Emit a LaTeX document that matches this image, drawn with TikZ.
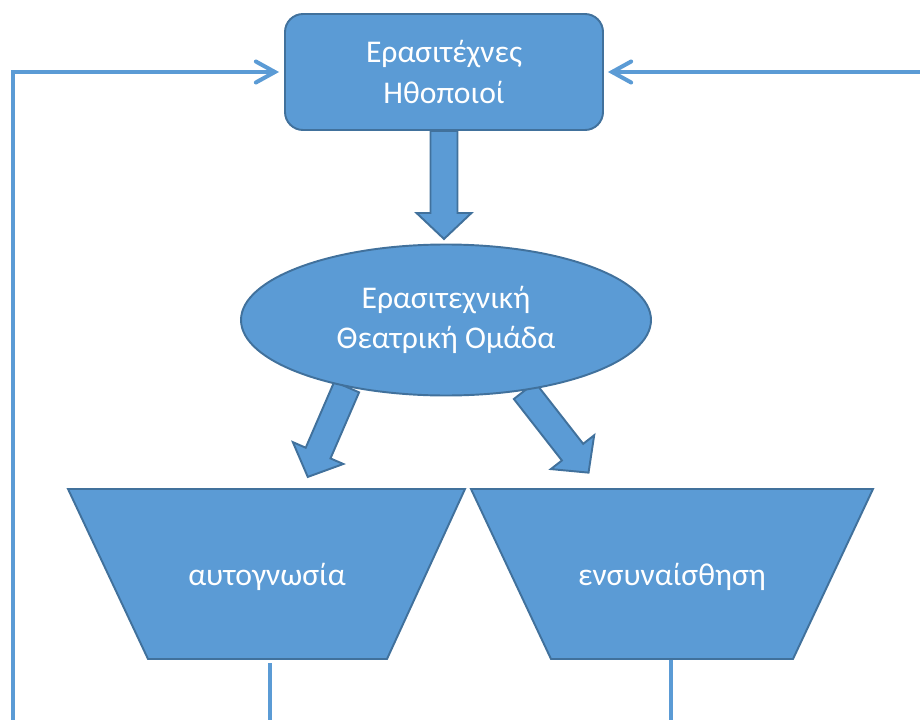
\documentclass[tikz,border=0pt]{standalone}
\usepackage{fontspec}
\setmainfont{Carlito}
\usetikzlibrary{positioning,shapes.geometric,arrows.meta,backgrounds,calc}
\definecolor{boxblue}{HTML}{5B9BD5}
\definecolor{edgeblue}{HTML}{41719C}
\def\unitpx{0.02cm}
\tikzset{
  label text/.style={text=white, align=center, font=\fontsize{18}{22.8}\selectfont},
  shapebox/.style={fill=boxblue, draw=edgeblue, line width=1.1pt, inner sep=0pt},
  loopline/.style={draw=boxblue, line width=2.3pt},
  barb/.style={-{Straight Barb[length=0.38cm, width=0.42cm, line cap=round]}},
}
% block arrow: start point, canvas angle, length (in px)
\newcommand{\blockarrow}[3]{%
  \begin{scope}[shift={(#1)}, rotate=#2]
    \draw[shapebox] (0,-13.5) -- ({#3-26},-13.5) -- ({#3-26},-27.5) -- (#3,0)
      -- ({#3-26},27.5) -- ({#3-26},13.5) -- (0,13.5) -- cycle;
  \end{scope}}

\begin{document}
\begin{tikzpicture}[x=0.02cm, y=-0.02cm, line join=miter]

\useasboundingbox (0,0) rectangle (920,720);

%--- Main shapes ---
\node[shapebox, label text, rounded corners=0.36cm,
  minimum width={318*\unitpx}, minimum height={116*\unitpx}]
  (actors) at (444,72) {Ερασιτέχνες\\Ηθοποιοί};

\node[shapebox, label text, ellipse,
  minimum width={410*\unitpx}, minimum height={151*\unitpx}]
  (troupe) at (446,320) {Ερασιτεχνική\\Θεατρική Ομάδα};

% inverted trapezoids
\draw[shapebox] (68,489) -- (465,489) -- (387,659) -- (148,659) -- cycle;
\draw[shapebox] (471,489) -- (873,489) -- (793,659) -- (551,659) -- cycle;
\node[label text] (selfknow) at (267,577) {αυτογνωσία};
\node[label text] (empathy) at (672,577) {ενσυναίσθηση};

%--- Block arrows (behind the shapes) ---
\begin{pgfonlayer}{background}
  \blockarrow{actors.south}{-90}{108}
  \blockarrow{troupe.214}{-113.4}{98}
  \blockarrow{troupe.318}{-52}{104}
\end{pgfonlayer}

%--- Feedback lines ---
\coordinate (selfTop) at (270,663);
\coordinate (empTop) at (671,660);
\coordinate (selfEnd) at (270,720);
\coordinate (empEnd) at (671,720);
\coordinate (loopL) at (13,720);
\coordinate (loopR) at (920,72);

\draw[loopline, line width=1.8pt] (selfTop) -- (selfEnd);
\draw[loopline, line width=1.8pt] (empTop) -- (empEnd);

\draw[loopline, barb, shorten >=5*\unitpx] (loopL) |- (actors.west);
\draw[loopline, barb, shorten >=4*\unitpx] (loopR) -- (actors.east);

\end{tikzpicture}
\end{document}
